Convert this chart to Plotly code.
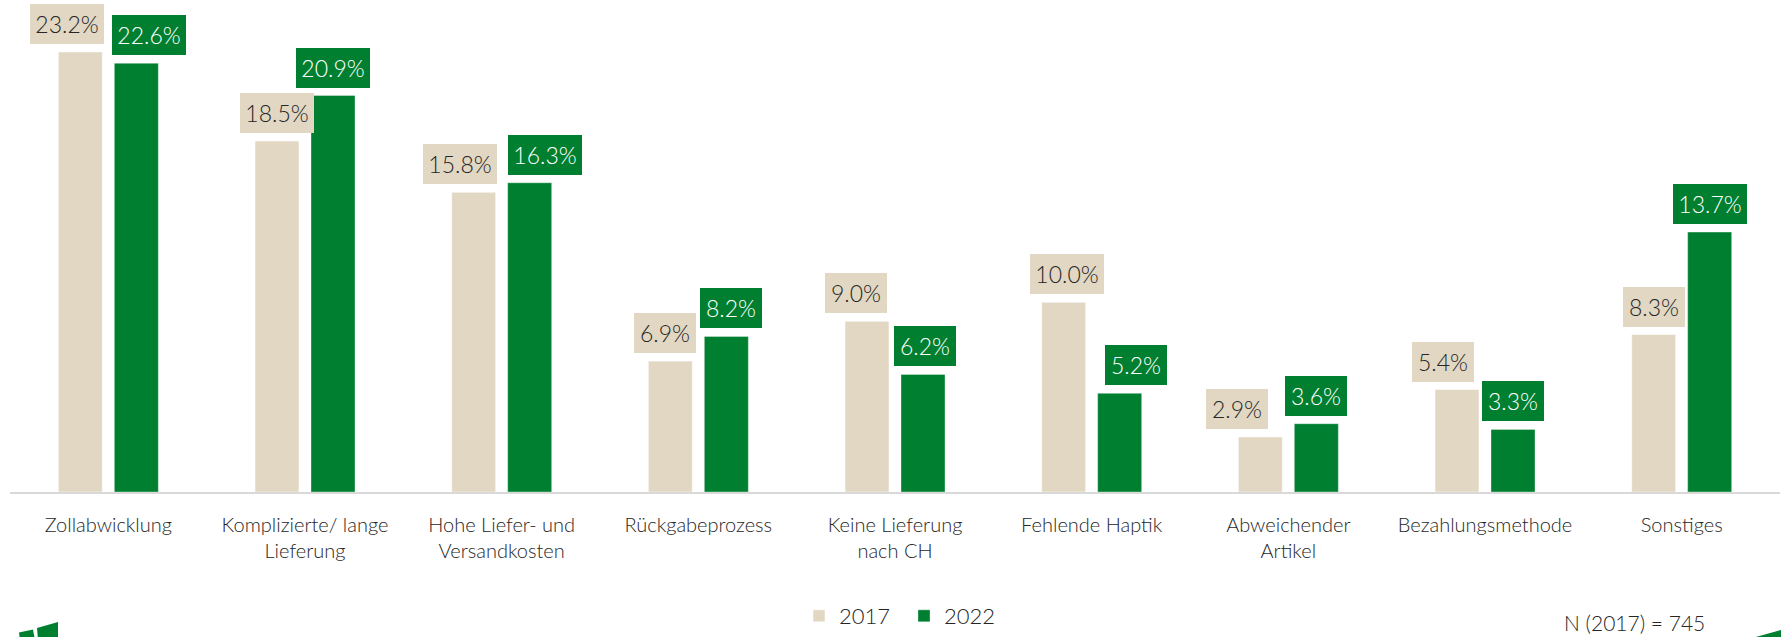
import plotly.graph_objects as go

# Survey: reasons against buying from foreign online shops (share of answers, %)
categories = [
    "Zollabwicklung",
    "Komplizierte/ lange<br>Lieferung",
    "Hohe Liefer- und<br>Versandkosten",
    "Rückgabeprozess",
    "Keine Lieferung<br>nach CH",
    "Fehlende Haptik",
    "Abweichender<br>Artikel",
    "Bezahlungsmethode",
    "Sonstiges",
]
values_2017 = [23.2, 18.5, 15.8, 6.9, 9.0, 10.0, 2.9, 5.4, 8.3]
values_2022 = [22.6, 20.9, 16.3, 8.2, 6.2, 5.2, 3.6, 3.3, 13.7]
series_names = ["2017", "2022"]
sample_note = "N (2017) = 745"

# Styling
BEIGE = "#E1D7C3"
GREEN = "#007F30"
FONT = "Lato"
WEIGHT = 300
W, H = 1781, 637
M_L, M_R, M_T, M_B = 10, 1, 0, 145
PX_PER_UNIT = 18.97

# Horizontal nudges (px) that keep neighbouring value boxes from overlapping
nudge_2017 = [-13, 0, -14, -5, -11, 3, -23, -14, 0]
nudge_2022 = [13, 0, 15, 5, 2, 16, 0, 0, 0]

plot_h = H - M_T - M_B
plot_w = W - M_L - M_R

fig = go.Figure()
fig.add_trace(go.Bar(
    name=series_names[0], x=categories, y=values_2017,
    marker=dict(color=BEIGE, line=dict(color="rgba(255,255,255,0.55)", width=1)),
))
fig.add_trace(go.Bar(
    name=series_names[1], x=categories, y=values_2022,
    marker=dict(color=GREEN, line=dict(color="rgba(255,255,255,0.35)", width=1)),
))

# Value boxes above each bar
annotations = []
for vals, bg, fg, side, nudges in [
    (values_2017, BEIGE, "#262626", -28, nudge_2017),
    (values_2022, GREEN, "#FFFFFF", 28, nudge_2022),
]:
    for cat, v, n in zip(categories, vals, nudges):
        txt = f"{v:.1f}%"
        annotations.append(dict(
            x=cat, y=v, xref="x", yref="y", text=txt, showarrow=False,
            xanchor="center", yanchor="bottom", xshift=side + n, yshift=8,
            bgcolor=bg, borderpad=0, borderwidth=0,
            width=74 if len(txt) > 4 else 62, height=40, valign="middle",
            font=dict(family=FONT, size=23, color=fg, weight=WEIGHT),
        ))


def px_to_paper(px, py):
    return (px - M_L) / plot_w, (H - M_B - py) / plot_h


# Sample size note in the lower right corner
nx, ny = px_to_paper(1562, 637)
annotations.append(dict(
    x=nx, y=ny, xref="paper", yref="paper", text=sample_note, showarrow=False,
    xanchor="left", yanchor="bottom",
    font=dict(family=FONT, size=21, color="#262626", weight=WEIGHT),
))

# Logo fragments at the lower corners
def path(points):
    parts = []
    for i, (px, py) in enumerate(points):
        x, y = px_to_paper(px, py)
        parts.append(("M" if i == 0 else "L") + f"{x:.5f},{y:.5f}")
    return " ".join(parts) + " Z"


shapes = [
    dict(type="path", xref="paper", yref="paper", line_width=0, fillcolor=GREEN,
         path=path([(19, 632.5), (33, 629.5), (35, 640), (20, 640)])),
    dict(type="path", xref="paper", yref="paper", line_width=0, fillcolor=GREEN,
         path=path([(37, 628), (58, 622), (58, 637), (38, 640)])),
    dict(type="path", xref="paper", yref="paper", line_width=0, fillcolor=GREEN,
         path=path([(1754, 637.5), (1781, 630), (1781, 637.5)])),
]

fig.update_layout(
    width=W, height=H,
    margin=dict(l=M_L, r=M_R, t=M_T, b=M_B, pad=0, autoexpand=False),
    paper_bgcolor="white", plot_bgcolor="white",
    barmode="group", bargap=0.4305, bargroupgap=0.2143,
    font=dict(family=FONT, size=20, color="#262626", weight=WEIGHT),
    showlegend=True,
    legend=dict(
        orientation="h", xref="container", yref="container",
        xanchor="center", x=904 / W,
        yanchor="bottom", y=0,
        font=dict(family=FONT, size=22, color="#262626", weight=WEIGHT),
        itemwidth=30, entrywidth=60, entrywidthmode="pixels",
        tracegroupgap=0, bgcolor="rgba(0,0,0,0)",
    ),
    annotations=annotations,
    shapes=shapes,
)
fig.update_xaxes(
    showline=True, linecolor="#D9D9D9", linewidth=2,
    showgrid=False, ticks="", ticklabelstandoff=14,
    tickfont=dict(family=FONT, size=20, color="#262626", weight=WEIGHT),
    fixedrange=True,
)
fig.update_yaxes(
    range=[0, plot_h / PX_PER_UNIT], visible=False, showgrid=False,
    zeroline=False, fixedrange=True,
)

fig.write_html("out.html", config={"displayModeBar": False})
